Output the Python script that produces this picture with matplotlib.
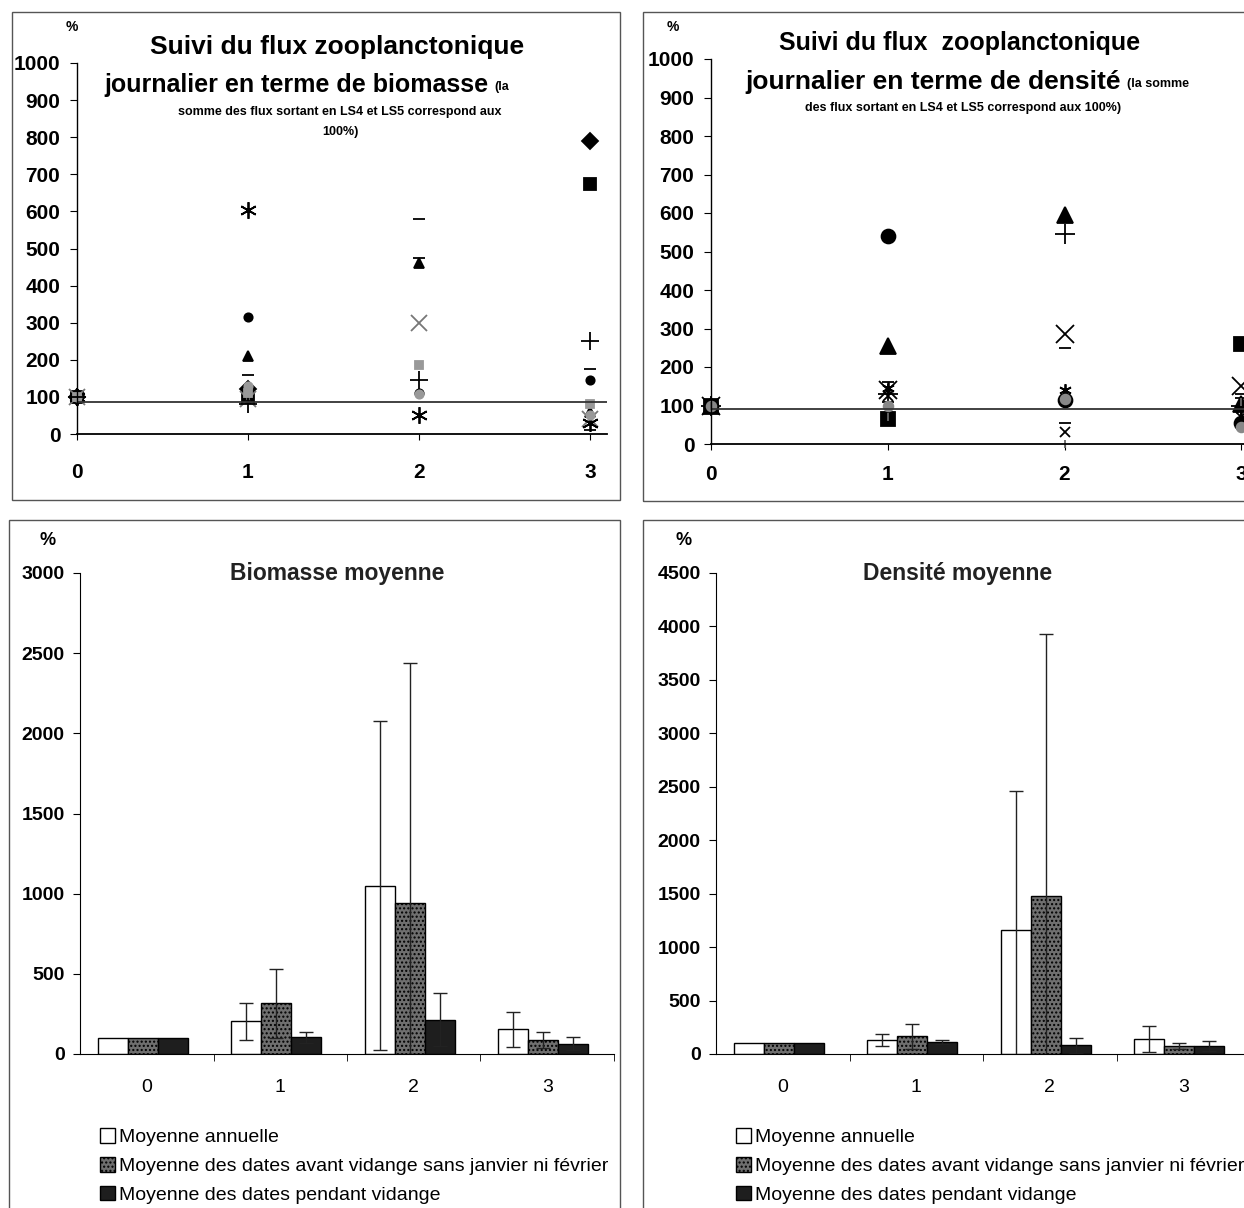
import matplotlib.pyplot as plt
from matplotlib.patches import Rectangle

plt.rcParams['font.family'] = ['Liberation Sans', 'DejaVu Sans']

W, H = 1244, 1208
nan = float('nan')

# ---- scatter data: flux journalier (x = 0..3), each series starts at 100 %
days = [0, 1, 2, 3]

bio_diamond = [100, 120, nan, 790]
bio_square = [100, 100, nan, 675]
bio_triangle = [100, 210, 460, 60]
bio_xgray = [100, 95, 300, 40]
bio_star = [100, 605, 50, 30]
bio_circle = [100, 315, 110, 145]
bio_plus = [100, 80, 145, 250]
bio_dash = [100, 160, 580, 175]
bio_sqgray = [100, 110, 185, 80]
bio_cigray = [100, 130, 108, 50]
bio_dash2 = [100, 90, 475, 10]
bio_ref = 86

den_circle = [100, 540, 115, 55]
den_triangle = [100, 255, 595, 105]
den_plus = [100, 130, 545, 100]
den_x = [100, 140, 285, 150]
den_dash = [100, 160, 250, 120]
den_star = [100, 145, 140, 90]
den_square = [100, 65, nan, 260]
den_dash2 = [100, 110, 55, 130]
den_xsmall = [100, 125, 30, 70]
den_cigray = [100, 100, 118, 45]
den_sqgray = [100, 70, 0, 110]
den_ref = 92

# ---- bar data: moyennes
groups = ['0', '1', '2', '3']
labels = ['Moyenne annuelle',
          'Moyenne des dates avant vidange sans janvier ni février',
          'Moyenne des dates pendant vidange']

biom_annuelle = [100, 205, 1050, 155]
biom_avant = [100, 315, 940, 85]
biom_pendant = [100, 105, 215, 65]
biom_annuelle_err = [0, 115, 1025, 110]
biom_avant_err = [0, 215, 1500, 50]
biom_pendant_err = [0, 35, 165, 40]

dens_annuelle = [100, 130, 1160, 140]
dens_avant = [100, 165, 1480, 75]
dens_pendant = [100, 110, 80, 75]
dens_annuelle_err = [0, 55, 1300, 125]
dens_avant_err = [0, 120, 2450, 30]
dens_pendant_err = [0, 20, 70, 45]


def fx(px):
    return px / W


def fy(py):
    return 1 - py / H


fig = plt.figure(figsize=(12.44, 12.08), dpi=100)

# panel frames
for x0, y0, x1, y1 in [(12, 12, 620, 500), (643, 12, 1260, 501),
                       (9, 520, 620, 1220), (643, 520, 1260, 1220)]:
    fig.patches.append(Rectangle((fx(x0), fy(y1)), fx(x1 - x0), (y1 - y0) / H,
                                 transform=fig.transFigure, fill=False,
                                 edgecolor='#555555', linewidth=1.0))

bio_series = [
    (bio_diamond, 'D', 'black', 8),
    (bio_square, 's', 'black', 9),
    (bio_triangle, '^', 'black', 7),
    (bio_xgray, 'x', '#777777', 12),
    (bio_star, (6, 2, 0), 'black', 12),
    (bio_circle, 'o', 'black', 6),
    (bio_plus, '+', 'black', 13),
    (bio_dash, '_', 'black', 9),
    (bio_sqgray, 's', '#999999', 6),
    (bio_cigray, 'o', '#999999', 6),
    (bio_dash2, '_', 'black', 8),
]
den_series = [
    (den_circle, 'o', 'black', 10),
    (den_triangle, '^', 'black', 11),
    (den_plus, '+', 'black', 14),
    (den_x, 'x', 'black', 13),
    (den_dash, '_', 'black', 9),
    (den_star, (6, 2, 0), 'black', 9),
    (den_square, 's', 'black', 10),
    (den_dash2, '_', 'black', 8),
    (den_xsmall, 'x', 'black', 7),
    (den_cigray, 'o', '#888888', 7),
    (den_sqgray, '|', '#666666', 6),
]


def scatter_panel(rect, series, ref, xpad):
    ax = fig.add_axes(rect)
    for vals, m, c, s in series:
        ax.plot(days, vals, linestyle='none', marker=m, color=c,
                markersize=s, markeredgewidth=1.3, clip_on=False)
    ax.axhline(ref, color='#333333', linewidth=1.3)
    ax.set_ylim(0, 1000)
    ax.set_xlim(0, 3.1)
    ax.set_yticks(range(0, 1001, 100))
    ax.set_xticks(days)
    for sp in ['top', 'right']:
        ax.spines[sp].set_visible(False)
    ax.spines['left'].set_linewidth(1.0)
    ax.spines['bottom'].set_linewidth(1.3)
    ax.tick_params(axis='y', direction='out', length=5, labelsize=15, pad=7)
    ax.tick_params(axis='x', direction='out', length=4, labelsize=15, pad=xpad)
    for t in ax.get_xticklabels() + ax.get_yticklabels():
        t.set_fontweight('bold')
    return ax


ax1 = scatter_panel([fx(77), fy(434), fx(530), (434 - 63) / H], bio_series, bio_ref, 17)
ax2 = scatter_panel([fx(711), fy(444), fx(548), (444 - 59) / H], den_series, den_ref, 11)

# titles of top panels
fig.text(fx(72), fy(27), '%', fontsize=10, fontweight='bold', ha='center', va='center')
fig.text(fx(337), fy(47), 'Suivi du flux zooplanctonique', fontsize=19,
         fontweight='bold', ha='center', va='center')
fig.text(fx(488), fy(85), 'journalier en terme de biomasse', fontsize=18,
         fontweight='bold', ha='right', va='center')
fig.text(fx(494), fy(87), '(la', fontsize=9, fontweight='bold', ha='left', va='center')
fig.text(fx(340), fy(112), 'somme des flux sortant en LS4 et LS5 correspond aux',
         fontsize=9, fontweight='bold', ha='center', va='center')
fig.text(fx(340), fy(132), '100%)', fontsize=9, fontweight='bold', ha='center', va='center')

fig.text(fx(673), fy(27), '%', fontsize=10, fontweight='bold', ha='center', va='center')
fig.text(fx(960), fy(43), 'Suivi du flux  zooplanctonique', fontsize=18,
         fontweight='bold', ha='center', va='center')
fig.text(fx(1121), fy(82), 'journalier en terme de densité', fontsize=19,
         fontweight='bold', ha='right', va='center')
fig.text(fx(1127), fy(84), '(la somme', fontsize=9, fontweight='bold', ha='left', va='center')
fig.text(fx(963), fy(108), 'des flux sortant en LS4 et LS5 correspond aux 100%)',
         fontsize=9, fontweight='bold', ha='center', va='center')


def bar_panel(rect, ymax, step, vals, errs, title, title_x, pct_x, legend_x):
    ax = fig.add_axes(rect)
    pos = list(range(len(groups)))
    bw = 0.225
    styles = [dict(color='white', edgecolor='black'),
              dict(color='#6f6f6f', edgecolor='black', hatch='....'),
              dict(color='#1e1e1e', edgecolor='black')]
    for i in range(3):
        xs = [p + (i - 1) * bw - 0.03 for p in pos]
        ax.bar(xs, vals[i], width=bw, linewidth=1.0, label=labels[i], **styles[i])
        ax.errorbar(xs[1:], vals[i][1:], yerr=errs[i][1:], fmt='none',
                    ecolor='#222222', elinewidth=1.0, capsize=5, capthick=1.0)
    ax.set_xlim(-0.5, 3.5)
    ax.set_ylim(0, ymax)
    ax.set_yticks(range(0, ymax + 1, step))
    ax.set_xticks(pos)
    ax.set_xticklabels(groups)
    ax.set_xticks([0.5, 1.5, 2.5, 3.5], minor=True)
    for sp in ['top', 'right']:
        ax.spines[sp].set_visible(False)
    ax.tick_params(axis='x', which='major', length=0, labelsize=14, pad=18)
    ax.tick_params(axis='x', which='minor', direction='out', length=5)
    ax.tick_params(axis='y', direction='out', length=5, labelsize=14, pad=6)
    for t in ax.get_yticklabels():
        t.set_fontweight('bold')
    fig.text(fx(title_x), fy(573), title, fontsize=16.5,
             fontweight='bold', ha='center', va='center', color='#222222')
    fig.text(fx(pct_x), fy(541), '%', fontsize=13, fontweight='bold',
             ha='center', va='center')
    ax.legend(loc='upper left', bbox_to_anchor=(fx(legend_x), fy(1120)),
              bbox_transform=fig.transFigure, frameon=False, fontsize=14,
              handlelength=0.8, handleheight=0.8, handletextpad=0.2,
              labelspacing=0.55, borderaxespad=0)
    return ax


bar_panel([fx(80), fy(1054), fx(534), (1054 - 573) / H], 3000, 500,
          [biom_annuelle, biom_avant, biom_pendant],
          [biom_annuelle_err, biom_avant_err, biom_pendant_err],
          'Biomasse moyenne', 337, 48, 92)
bar_panel([fx(716), fy(1054), fx(534), (1054 - 573) / H], 4500, 500,
          [dens_annuelle, dens_avant, dens_pendant],
          [dens_annuelle_err, dens_avant_err, dens_pendant_err],
          'Densité moyenne', 958, 684, 728)

fig.savefig('out.png', dpi=100)
